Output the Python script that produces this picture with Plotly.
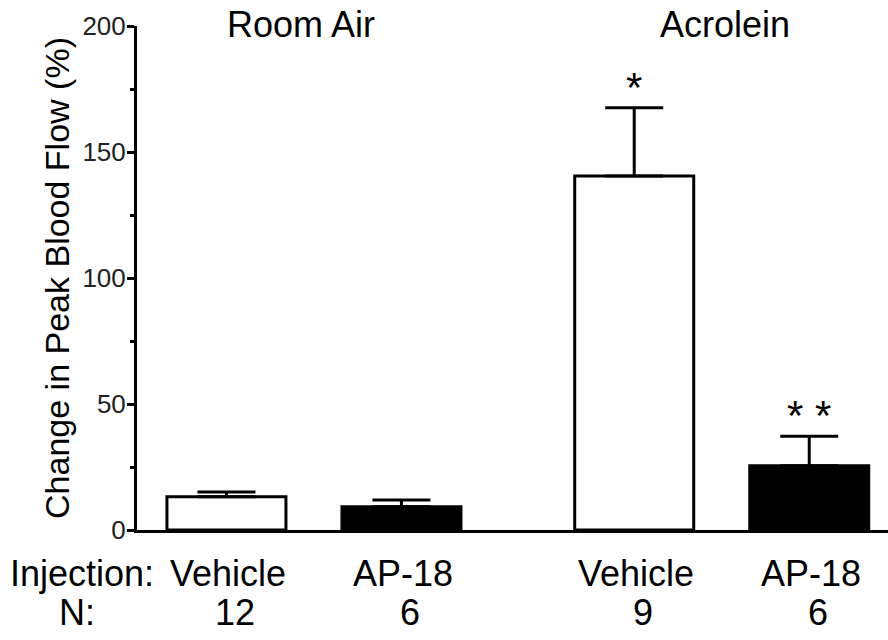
import plotly.graph_objects as go

# ---- data ----
groups = ["Room Air", "Acrolein"]
injections = ["Vehicle", "AP-18", "Vehicle", "AP-18"]
n_values = [12, 6, 9, 6]
means = [13.2, 9.2, 140.5, 25.5]
sems = [1.9, 2.7, 27.1, 11.7]
significance = ["", "", "*", "* *"]

# ---- layout helpers ----
FONT = "Liberation Sans, Arial, sans-serif"
group_gap = 2.33
group_idx = [0, 0, 1, 1]
within_idx = [0, 1, 0, 1]
positions = [g * group_gap + i for g, i in zip(group_idx, within_idx)]
fills = ["white" if inj == "Vehicle" else "black" for inj in injections]
TXT = 36

fig = go.Figure()
fig.add_trace(go.Bar(
    x=positions, y=means, width=0.68,
    marker=dict(color=fills, line=dict(color="black", width=3)),
    error_y=dict(type="data", array=sems, arrayminus=[0] * len(sems),
                 symmetric=False, color="black", thickness=3, width=29),
    showlegend=False, hoverinfo="skip",
))

annotations = []
# significance stars
for x, m, s, sig in zip(positions, means, sems, significance):
    if sig:
        annotations.append(dict(x=x, y=m + s, xref="x", yref="y", text=sig,
                                showarrow=False, yanchor="bottom", yshift=-5,
                                font=dict(family=FONT, size=42, color="black")))
# group headers (paper x of the header centres)
group_centers = [0.2184, 0.783]
for gx, g in zip(group_centers, groups):
    annotations.append(dict(x=gx, y=1.0, xref="paper", yref="paper", text=g,
                            showarrow=False, xanchor="center", yanchor="middle",
                            yshift=2, font=dict(family=FONT, size=TXT, color="black")))
# injection row and N row
annotations.append(dict(x=-0.0732, y=-0.087, xref="paper", yref="paper",
                        text="Injection:", showarrow=False, xanchor="center",
                        yanchor="middle", font=dict(family=FONT, size=TXT, color="black")))
annotations.append(dict(x=-0.0799, y=-0.163, xref="paper", yref="paper",
                        text="N:", showarrow=False, xanchor="center",
                        yanchor="middle", font=dict(family=FONT, size=TXT, color="black")))
for x, inj, n in zip(positions, injections, n_values):
    annotations.append(dict(x=x, y=-0.087, xref="x", yref="paper", text=inj,
                            showarrow=False, xanchor="center", yanchor="middle",
                            xshift=2, font=dict(family=FONT, size=TXT, color="black")))
    annotations.append(dict(x=x, y=-0.163, xref="x", yref="paper", text=str(n),
                            showarrow=False, xanchor="center", yanchor="middle",
                            xshift=9, font=dict(family=FONT, size=TXT, color="black")))

fig.update_layout(
    width=888, height=640,
    margin=dict(l=137, r=0, t=26, b=110),
    paper_bgcolor="white", plot_bgcolor="white",
    font=dict(family=FONT, color="black"),
    annotations=annotations,
    xaxis=dict(range=[-0.511, 3.78], showline=True, linecolor="black", linewidth=3,
               showticklabels=False, ticks="", showgrid=False, zeroline=False),
    yaxis=dict(range=[0, 200], tickvals=[0, 50, 100, 150, 200],
               ticks="outside", ticklen=7, tickwidth=3, tickcolor="black",
               minor=dict(dtick=25, ticks="outside", ticklen=4, tickwidth=3, tickcolor="black"),
               showline=True, linecolor="black", linewidth=3,
               showgrid=False, zeroline=False,
               ticklabelstandoff=-4,
               tickfont=dict(family=FONT, size=26, color="#222"),
               title=dict(text="Change in Peak Blood Flow (%)", standoff=3,
                          font=dict(family=FONT, size=34, color="black"))),
)

fig.write_html("out.html", config={"displayModeBar": False},
               post_script="document.body.style.margin='0';document.body.style.overflow='hidden';")
